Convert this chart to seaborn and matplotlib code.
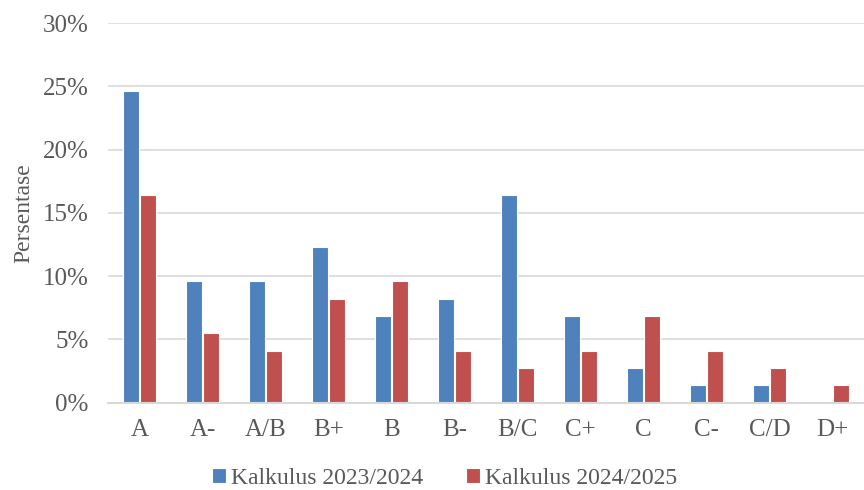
import pandas as pd
import matplotlib.pyplot as plt
import seaborn as sns
from matplotlib.ticker import FuncFormatter

grades = ["A", "A-", "A/B", "B+", "B", "B-", "B/C", "C+", "C", "C-", "C/D", "D+"]
kalkulus_2324 = [24.66, 9.59, 9.59, 12.33, 6.85, 8.22, 16.44, 6.85, 2.74, 1.37, 1.37, 0.0]
kalkulus_2425 = [16.44, 5.48, 4.11, 8.22, 9.59, 4.11, 2.74, 4.11, 6.85, 4.11, 2.74, 1.37]
series_names = ["Kalkulus 2023/2024", "Kalkulus 2024/2025"]

df = pd.DataFrame({
    "Nilai": grades * 2,
    "Persentase": kalkulus_2324 + kalkulus_2425,
    "Kelas": [series_names[0]] * len(grades) + [series_names[1]] * len(grades),
})

sns.set_style("white")
plt.rcParams["font.family"] = ["Liberation Serif", "DejaVu Serif"]
text_color = "#595959"

fig = plt.figure(figsize=(8.64, 4.9), dpi=100)
ax = fig.add_axes([0.125, 0.178, 0.875, 0.775])

sns.barplot(data=df, x="Nilai", y="Persentase", hue="Kelas",
            palette=["#4F81BD", "#C0504D"], saturation=1, width=0.53, gap=0.06,
            edgecolor="white", linewidth=0.8, ax=ax)

ax.set_ylim(0, 30)
ax.set_yticks(range(0, 31, 5))
ax.yaxis.set_major_formatter(FuncFormatter(lambda v, p: f"{v:.0f}%"))
ax.grid(axis="y", color="#D9D9D9", linewidth=1.2)
ax.set_axisbelow(True)
for s in ["top", "right", "left"]:
    ax.spines[s].set_visible(False)
ax.spines["bottom"].set_color("#D9D9D9")
ax.spines["bottom"].set_linewidth(1.5)
ax.tick_params(axis="both", length=0, labelsize=18, colors=text_color)
ax.tick_params(axis="x", pad=12)
ax.tick_params(axis="y", pad=14)
ax.set_xlabel("")
ax.set_ylabel("Persentase", fontsize=17, color=text_color, labelpad=6)

ax.legend(loc="upper center", bbox_to_anchor=(0.445, -0.115), ncol=2,
          frameon=False, fontsize=17, handlelength=0.6, handleheight=0.6,
          handletextpad=0.2, columnspacing=1.8, labelcolor=text_color)

fig.savefig("out.png", dpi=100)
